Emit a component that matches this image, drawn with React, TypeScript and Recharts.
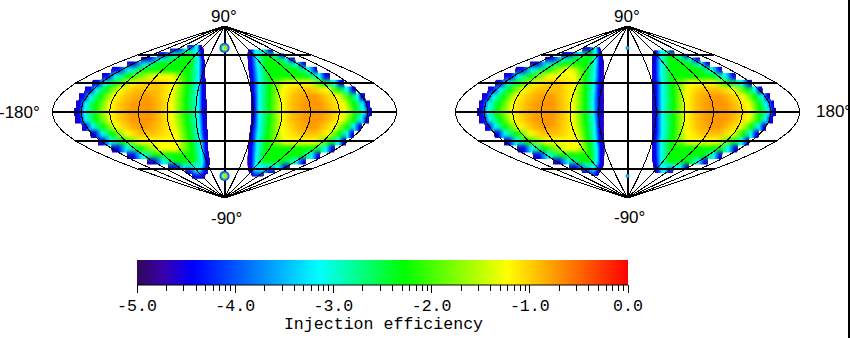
import React from "react";
import { ComposedChart, Line, Scatter, XAxis, YAxis, ReferenceArea } from "recharts";

// Levels shared by every heat row: each row lists the projected longitude where the
// values cross these levels going in from the left edge, then back out to the right edge.
const LEVEL_COLORS = ["#2400b4", "#0000ff", "#00ffff", "#00ff00", "#ffff00", "#ffc000", "#ff9800"];

const WEST_LOBE_LATS = [68, 64.5, 60, 55, 50, 44, 37, 30, 23, 15.6, 7.7, 0, -8, -15.7, -23, -31, -38.6, -45.6, -52, -57.4, -62, -67];
const WEST_LOBE_ROWS = [
  [-39, -34, -30, -28, -26, -23],
  [-57, -48, -40, -29, -25, -21],
  [-70, -63, -53, -41, -36, -28, -24, -21],
  [-87, -78, -67, -50, -35, -27, -23, -21],
  [-102, -95, -84, -67, -36, -27, -23, -20],
  [-118, -111, -100, -83, -37, -27, -23, -20],
  [-128, -122, -114, -100, -73, -55, -38, -27, -23, -20],
  [-138, -132, -125, -114, -97, -74, -72, -53, -39, -27, -23, -19],
  [-146, -140, -134, -123, -109, -94, -70, -54, -39, -27, -23, -19],
  [-152, -147, -140, -129, -116, -102, -83, -80, -69, -55, -40, -27, -23, -19],
  [-155, -151, -145, -134, -120, -107, -94, -78, -67, -55, -40, -27, -23, -18],
  [-157, -152, -146, -135, -120, -108, -97, -77, -67, -55, -40, -27, -23, -18],
  [-156, -151, -145, -134, -119, -106, -95, -78, -68, -55, -39, -27, -22, -18],
  [-149, -145, -138, -127, -113, -100, -87, -83, -69, -53, -38, -26, -22, -18],
  [-140, -135, -128, -117, -102, -88, -74, -51, -37, -26, -21, -17],
  [-132, -127, -119, -106, -87, -49, -35, -25, -20, -17],
  [-118, -111, -102, -89, -67, -51, -34, -24, -20, -17],
  [-102, -95, -86, -71, -33, -24, -19, -16],
  [-81, -73, -64, -50, -32, -23, -19, -15],
  [-59, -52, -41, -24, -19, -16],
  [-41, -36, -30, -26, -21, -17],
  [-34, -30, -25, -20],
];

const EAST_LOBE_LATS = [63, 58.8, 54.6, 50, 44, 37, 30, 23, 15.6, 7.7, 0, -8, -15.7, -23, -31, -38.6, -45.6, -52, -57.4, -62, -65.5];
const EAST_LOBE_ROWS = [
  [24, 28, 32, 41, 47, 51],
  [24, 28, 33, 42, 45, 54, 60, 63],
  [24, 28, 34, 43, 55, 64, 70, 74],
  [25, 28, 34, 44, 61, 75, 82, 85],
  [25, 29, 35, 45, 74, 88, 95, 97],
  [26, 29, 36, 46, 86, 99, 105, 110],
  [27, 30, 36, 47, 64, 89, 103, 115, 121, 125],
  [27, 30, 36, 47, 61, 77, 89, 107, 119, 128, 134, 137],
  [28, 31, 36, 47, 60, 72, 88, 95, 105, 119, 131, 139, 143, 147],
  [28, 31, 36, 47, 60, 70, 84, 100, 108, 124, 135, 144, 149, 152],
  [28, 31, 36, 47, 60, 70, 84, 102, 112, 126, 137, 146, 151, 154],
  [28, 31, 36, 47, 60, 70, 85, 100, 110, 122, 135, 143, 148, 151],
  [27, 30, 36, 46, 60, 74, 89, 94, 103, 115, 128, 135, 141, 143],
  [26, 29, 35, 45, 61, 81, 95, 108, 120, 128, 133, 135],
  [25, 29, 34, 44, 63, 95, 110, 119, 124, 127],
  [25, 28, 34, 43, 95, 106, 112, 115],
  [24, 28, 33, 42, 79, 91, 97, 100],
  [24, 28, 33, 41, 60, 75, 82, 85],
  [24, 28, 32, 56, 63, 68],
  [25, 28, 32, 39, 46, 53],
  [28, 32, 35, 41],
];

const SECOND_WEST_LATS = [65, 60, 55, 50, 44, 37, 30, 23, 15.6, 7.7, 0, -8, -15.7, -23, -31, -38.6, -45.6, -52, -57.4, -62, -65];
const SECOND_WEST_ROWS = [
  [-47, -40, -35, -33, -30, -28],
  [-69, -61, -50, -40, -37, -33, -29, -26],
  [-86, -78, -68, -52, -41, -33, -29, -25],
  [-102, -94, -84, -69, -42, -33, -29, -25],
  [-117, -110, -100, -83, -64, -59, -43, -34, -29, -25],
  [-129, -122, -114, -101, -82, -55, -44, -34, -29, -25],
  [-138, -133, -125, -114, -97, -78, -75, -55, -44, -35, -30, -25],
  [-146, -141, -133, -123, -109, -94, -71, -56, -44, -35, -30, -25],
  [-152, -147, -140, -129, -116, -102, -85, -80, -70, -57, -44, -36, -30, -25],
  [-155, -151, -145, -134, -120, -107, -94, -77, -69, -57, -44, -36, -30, -25],
  [-157, -152, -146, -136, -121, -108, -95, -77, -69, -57, -44, -36, -30, -25],
  [-155, -150, -144, -133, -119, -106, -94, -78, -69, -57, -44, -35, -30, -25],
  [-149, -145, -138, -127, -113, -100, -86, -82, -70, -56, -43, -34, -30, -25],
  [-139, -135, -128, -116, -102, -87, -74, -54, -42, -34, -29, -25],
  [-129, -124, -116, -104, -85, -51, -41, -33, -29, -24],
  [-115, -108, -100, -86, -64, -52, -39, -32, -28, -24],
  [-99, -92, -83, -68, -38, -32, -28, -24],
  [-78, -71, -62, -47, -38, -32, -28, -25],
  [-61, -54, -43, -34, -29, -25],
  [-48, -41, -36, -35, -32, -28],
  [-38, -35, -34, -30],
];

const SECOND_EAST_LATS = [62.4, 58.8, 54.6, 50, 44, 37, 30, 23, 15.6, 7.7, 0, -8, -15.7, -23, -31, -38.6, -45.6, -52, -57.4, -61.6];
const SECOND_EAST_ROWS = [
  [27, 30, 34, 41, 45, 49],
  [26, 30, 35, 43, 45, 55, 61, 64],
  [26, 29, 35, 44, 55, 65, 72, 76],
  [26, 29, 35, 45, 64, 76, 83, 86],
  [26, 29, 35, 45, 76, 88, 96, 99],
  [26, 29, 35, 46, 88, 102, 110, 113],
  [26, 30, 36, 47, 65, 90, 105, 119, 127, 130],
  [26, 30, 36, 47, 62, 78, 93, 111, 125, 133, 138, 141],
  [26, 30, 36, 48, 61, 72, 86, 97, 107, 121, 133, 141, 146, 149],
  [26, 30, 36, 48, 61, 72, 84, 102, 112, 126, 137, 145, 151, 153],
  [26, 30, 36, 48, 61, 72, 84, 104, 115, 128, 139, 147, 152, 155],
  [26, 30, 36, 48, 61, 72, 84, 102, 112, 126, 137, 144, 149, 152],
  [26, 30, 36, 48, 61, 73, 87, 96, 105, 118, 129, 137, 142, 145],
  [26, 30, 36, 47, 62, 79, 95, 110, 121, 129, 134, 137],
  [26, 29, 35, 46, 65, 93, 110, 119, 125, 127],
  [26, 29, 35, 45, 96, 105, 112, 115],
  [26, 29, 35, 44, 79, 90, 96, 99],
  [26, 30, 35, 43, 62, 74, 80, 84],
  [27, 30, 35, 55, 61, 64],
  [28, 32, 36, 39, 43, 48],
];

const MERIDIANS = [-180, -150, -120, -90, -60, -30, 0, 30, 60, 90, 120, 150, 180];
const PARALLELS = [-60, -30, 0, 30, 60];
const MERIDIAN_LATS = [-90, -80, -70, -60, -50, -40, -30, -20, -10, 0, 10, 20, 30, 40, 50, 60, 70, 80, 90];
const SPOTS = [{ x: 0, lat: 67 }, { x: 0, lat: -67 }];
const MAP_CORNERS = [{ x: -180, lat: -90 }, { x: 180, lat: 90 }];

const BAR_VALUES = [-5, -4.75, -4.42, -3.15, -2.28, -1.23, 0];
const BAR_COLORS = ["#2d0a55", "#3a00a8", "#0000ff", "#00ffff", "#00ff00", "#ffff00", "#ff0000"];
const BAR_ENDS = [{ value: -5, y: 0 }, { value: 0, y: 1 }];
const BAR_MAJOR = [-5, -4, -3, -2, -1, 0];
const BAR_MINOR_STEPS = [0.301, 0.477, 0.602, 0.699, 0.778, 0.845, 0.903, 0.954];
const BAR_TICKS = BAR_MAJOR.flatMap((m) => (m === 0 ? [m] : [m, ...BAR_MINOR_STEPS.map((s) => m + s)]));

const MAP_W = 355;
const MAP_H = 182;
const MARGIN = { top: 5, right: 5, bottom: 5, left: 5 };
const FONT = "'Liberation Sans', sans-serif";
const MONO = "'Liberation Mono', monospace";

function colorAt(i: number, n: number) {
  return LEVEL_COLORS[i < n / 2 ? i : n - 1 - i];
}

function bands(id: string, lats: number[], rows: number[][]) {
  const defs = rows.map((row, r) => {
    const a = row[0];
    const b = row[row.length - 1];
    return (
      <linearGradient key={r} id={`${id}-${r}`} x1="0" y1="0" x2="1" y2="0">
        {row.map((x, i) => (
          <stop key={i} offset={(x - a) / (b - a)} stopColor={colorAt(i, row.length)} />
        ))}
      </linearGradient>
    );
  });
  const areas = rows.map((row, r) => {
    const up = r > 0 ? lats[r - 1] - lats[r] : lats[r] - lats[r + 1];
    const down = r < rows.length - 1 ? lats[r] - lats[r + 1] : lats[r - 1] - lats[r];
    return (
      <ReferenceArea
        key={`${id}-${r}`}
        x1={row[0]}
        x2={row[row.length - 1]}
        y1={lats[r] - down / 2 - 0.3}
        y2={lats[r] + up / 2 + 0.3}
        fill={`url(#${id}-${r})`}
        fillOpacity={1}
        stroke="none"
      />
    );
  });
  return { defs, areas };
}

function HeatLayer({ id, west, east }: any) {
  const w = bands(`${id}w`, west.lats, west.rows);
  const e = bands(`${id}e`, east.lats, east.rows);
  return (
    <div style={{ position: "absolute", left: 0, top: 0, filter: "url(#rowSmooth)" }}>
      <ComposedChart width={MAP_W} height={MAP_H} margin={MARGIN} data={MAP_CORNERS}>
        <defs>
          {w.defs}
          {e.defs}
        </defs>
        <XAxis type="number" dataKey="x" domain={[-180, 180]} hide />
        <YAxis type="number" dataKey="lat" domain={[-90, 90]} hide />
        {w.areas}
        {e.areas}
      </ComposedChart>
    </div>
  );
}

function Graticule({ spotId, spotR }: any) {
  return (
    <div style={{ position: "absolute", left: 0, top: 0, shapeRendering: "crispEdges" }}>
      <ComposedChart width={MAP_W} height={MAP_H} margin={MARGIN} data={MAP_CORNERS}>
        <XAxis type="number" dataKey="x" domain={[-180, 180]} hide />
        <YAxis type="number" dataKey="lat" domain={[-90, 90]} hide />
        <Scatter
          data={SPOTS}
          dataKey="lat"
          isAnimationActive={false}
          shape={(p: any) => (
            <circle cx={p.cx} cy={p.cy} r={spotR} fill={`url(#${spotId})`} style={{ shapeRendering: "auto" }} />
          )}
        />
        {MERIDIANS.map((lon) => (
          <Line
            key={lon}
            data={MERIDIAN_LATS.map((lat) => ({ x: lon * Math.cos((lat * Math.PI) / 180), lat }))}
            dataKey="lat"
            stroke="#000"
            strokeWidth={lon === 0 ? 2 : 1}
            dot={false}
            isAnimationActive={false}
          />
        ))}
        {PARALLELS.map((lat) => {
          const half = 180 * Math.cos((lat * Math.PI) / 180);
          return (
            <Line
              key={lat}
              data={[{ x: -half, lat }, { x: half, lat }]}
              dataKey="lat"
              stroke="#000"
              strokeWidth={2}
              dot={false}
              isAnimationActive={false}
            />
          );
        })}
      </ComposedChart>
    </div>
  );
}

function MapPanel({ left, id, west, east, spotId, spotR }: any) {
  return (
    <div style={{ position: "absolute", left, top: 21, width: MAP_W, height: MAP_H }}>
      <HeatLayer id={id} west={west} east={east} />
      <Graticule spotId={spotId} spotR={spotR} />
    </div>
  );
}

function BarTick({ x, y, payload }: any) {
  const v = payload.value;
  const major = BAR_MAJOR.includes(v);
  return (
    <g>
      <line x1={x} x2={x} y1={y} y2={y + (major ? 8 : 6)} stroke="#000" shapeRendering="crispEdges" />
      {major && (
        <text x={x} y={y + 25.5} textAnchor="middle" fontFamily={MONO} fontSize={16.6} fill="#000">
          {v.toFixed(1)}
        </text>
      )}
    </g>
  );
}

function ColorBar() {
  return (
    <div style={{ position: "absolute", left: 107, top: 250 }}>
      <ComposedChart width={551} height={88} margin={{ top: 10, right: 30, bottom: 0, left: 30 }} data={BAR_ENDS}>
        <defs>
          <linearGradient id="barFill" x1="0" y1="0" x2="1" y2="0">
            {BAR_VALUES.map((v, i) => (
              <stop key={v} offset={(v + 5) / 5} stopColor={BAR_COLORS[i]} />
            ))}
          </linearGradient>
        </defs>
        <XAxis
          type="number"
          dataKey="value"
          domain={[-5, 0]}
          ticks={BAR_TICKS}
          interval={0}
          height={53}
          tickLine={false}
          tickSize={0}
          tickMargin={0}
          axisLine={{ stroke: "#000" }}
          tick={<BarTick />}
        />
        <YAxis type="number" dataKey="y" domain={[0, 1]} hide />
        <ReferenceArea x1={-5} x2={0} y1={0} y2={1} fill="url(#barFill)" fillOpacity={1} stroke="none" />
      </ComposedChart>
    </div>
  );
}

export default function App() {
  return (
    <div style={{ position: "absolute", left: 0, top: 0, width: 850, height: 338, background: "#fff", overflow: "hidden" }}>
      <svg width={0} height={0} style={{ position: "absolute" }}>
        <defs>
          <filter id="rowSmooth" x="0" y="0" width="1" height="1" colorInterpolationFilters="sRGB">
            <feGaussianBlur stdDeviation="0.5 2.2" />
            <feComponentTransfer>
              <feFuncA type="linear" slope="8" intercept="-3.5" />
            </feComponentTransfer>
          </filter>
          <radialGradient id="spotBig">
            <stop offset="0" stopColor="#ff8000" />
            <stop offset="0.3" stopColor="#ffff00" />
            <stop offset="0.55" stopColor="#00e0a0" />
            <stop offset="0.8" stopColor="#0080ff" />
            <stop offset="1" stopColor="#1000c0" />
          </radialGradient>
          <radialGradient id="spotSmall">
            <stop offset="0" stopColor="#00ffd0" />
            <stop offset="1" stopColor="#0060ff" />
          </radialGradient>
        </defs>
      </svg>
      <MapPanel left={47} id="a" spotId="spotBig" spotR={5}
        west={{ lats: WEST_LOBE_LATS, rows: WEST_LOBE_ROWS }}
        east={{ lats: EAST_LOBE_LATS, rows: EAST_LOBE_ROWS }} />
      <MapPanel left={450} id="b" spotId="spotSmall" spotR={2}
        west={{ lats: SECOND_WEST_LATS, rows: SECOND_WEST_ROWS }}
        east={{ lats: SECOND_EAST_LATS, rows: SECOND_EAST_ROWS }} />
      <ColorBar />
      <svg width={850} height={338} style={{ position: "absolute", left: 0, top: 0 }}>
        <g fontFamily={FONT} fontSize={17} fill="#000">
          <text x={211} y={22}>90°</text>
          <text x={211} y={224}>-90°</text>
          <text x={-1} y={118}>-180°</text>
          <text x={614} y={22}>90°</text>
          <text x={614} y={223}>-90°</text>
          <text x={816} y={117}>180°</text>
        </g>
        <text x={383.5} y={329} textAnchor="middle" fontFamily={MONO} fontSize={16.6} fill="#000">Injection efficiency</text>
        <rect x={848} y={0} width={2} height={338} fill="#000" />
      </svg>
    </div>
  );
}
